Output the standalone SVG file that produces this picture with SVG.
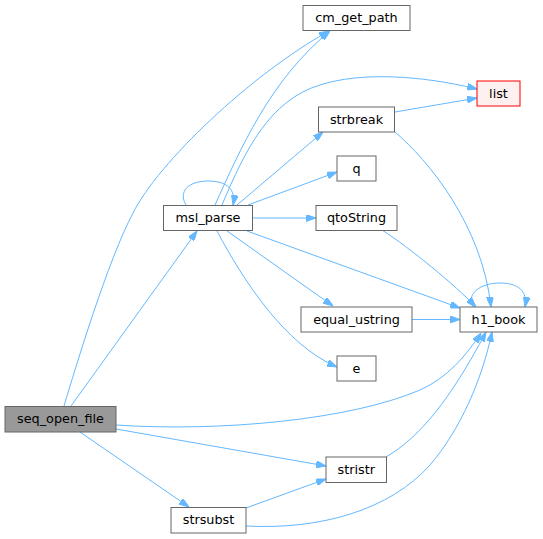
<svg xmlns="http://www.w3.org/2000/svg" width="543" height="539" viewBox="0 0 543 539">
<style>
.n rect{fill:#ffffff;stroke:#666666;stroke-width:1}
.n text{font-family:"DejaVu Sans","Liberation Sans",sans-serif;font-size:12.8px;fill:#000000;text-anchor:middle}
.e path{fill:none;stroke:#63b8ff;stroke-width:1;marker-end:url(#ah)}
</style>
<defs>
<marker id="ah" viewBox="0 0 10 7" refX="10" refY="3.5" markerWidth="10" markerHeight="7" markerUnits="userSpaceOnUse" orient="auto">
<path d="M0,0 L10,3.5 L0,7 z" fill="#63b8ff" stroke="#63b8ff" stroke-width="1"/>
</marker>
</defs>
<rect width="543" height="539" fill="#ffffff"/>
<g id="edges" class="e">
<path d="M71,406 L197,231"/>
<path d="M64,406 C76,366 108,260 133,213 C158,163 250,75 329,31"/>
<path d="M116,425 C220,432 350,420 420,390 C447,378 466,356 481,333"/>
<path d="M116,429 L326,466"/>
<path d="M80,432 L189,507"/>
<path d="M246,508 L326,479"/>
<path d="M246,526 C320,530 390,510 430,465 C460,430 482,380 492,332"/>
<path d="M386,457 C420,437 450,400 486,332"/>
<path d="M412,319.5 L460,319.5"/>
<path d="M227,231 L333,306"/>
<path d="M217,231 C243,280 285,345 337,367"/>
<path d="M247,231 L460,308"/>
<path d="M253,218 L316,218"/>
<path d="M248,205 L337,172"/>
<path d="M237,205 L323,132"/>
<path d="M222,205 C245,150 270,100 320,85 C360,72 420,75 477,89"/>
<path d="M215,205 C240,150 270,80 330,31"/>
<path d="M186,205 C178,192 188,181 208,181 C228,181 236,190 233,205"/>
<path d="M395,112 L477,98"/>
<path d="M395,132 C428,160 482,225 491,307"/>
<path d="M382,230 C410,248 455,285 476,307"/>
<path d="M473,307 C466,294 480,283 500,283 C518,283 528,291 525,307"/>
</g>
<g id="cm_get_path" class="n"><rect x="303" y="5.5" width="107" height="25"/><text x="356.5" y="22">cm_get_path</text></g>
<g id="list" class="n"><rect x="477" y="81" width="43" height="25" style="fill:#fff0f0;stroke:#ff0000"/><text x="498.5" y="97.7">list</text></g>
<g id="strbreak" class="n"><rect x="318.5" y="107" width="76" height="25"/><text x="356.5" y="123.7">strbreak</text></g>
<g id="q" class="n"><rect x="337" y="156" width="39" height="25"/><text x="356.5" y="172.7">q</text></g>
<g id="qtoString" class="n"><rect x="316" y="205.5" width="81" height="25"/><text x="356.5" y="222">qtoString</text></g>
<g id="msl_parse" class="n"><rect x="163.5" y="205.5" width="89" height="25"/><text x="208" y="222">msl_parse</text></g>
<g id="equal_ustring" class="n"><rect x="301" y="307" width="111" height="25"/><text x="356.5" y="323.7">equal_ustring</text></g>
<g id="h1_book" class="n"><rect x="460" y="307" width="77" height="25"/><text x="498.5" y="323.7">h1_book</text></g>
<g id="e" class="n"><rect x="337" y="356" width="39" height="25"/><text x="356.5" y="372.7">e</text></g>
<g id="seq_open_file" class="n"><rect x="5" y="406.5" width="111" height="25.5" style="fill:#999999"/><text x="60.5" y="423.3">seq_open_file</text></g>
<g id="stristr" class="n"><rect x="326" y="457" width="60.5" height="25.5"/><text x="356.2" y="473.8">stristr</text></g>
<g id="strsubst" class="n"><rect x="171" y="507.5" width="75" height="25.5"/><text x="208.5" y="524.3">strsubst</text></g>
</svg>
